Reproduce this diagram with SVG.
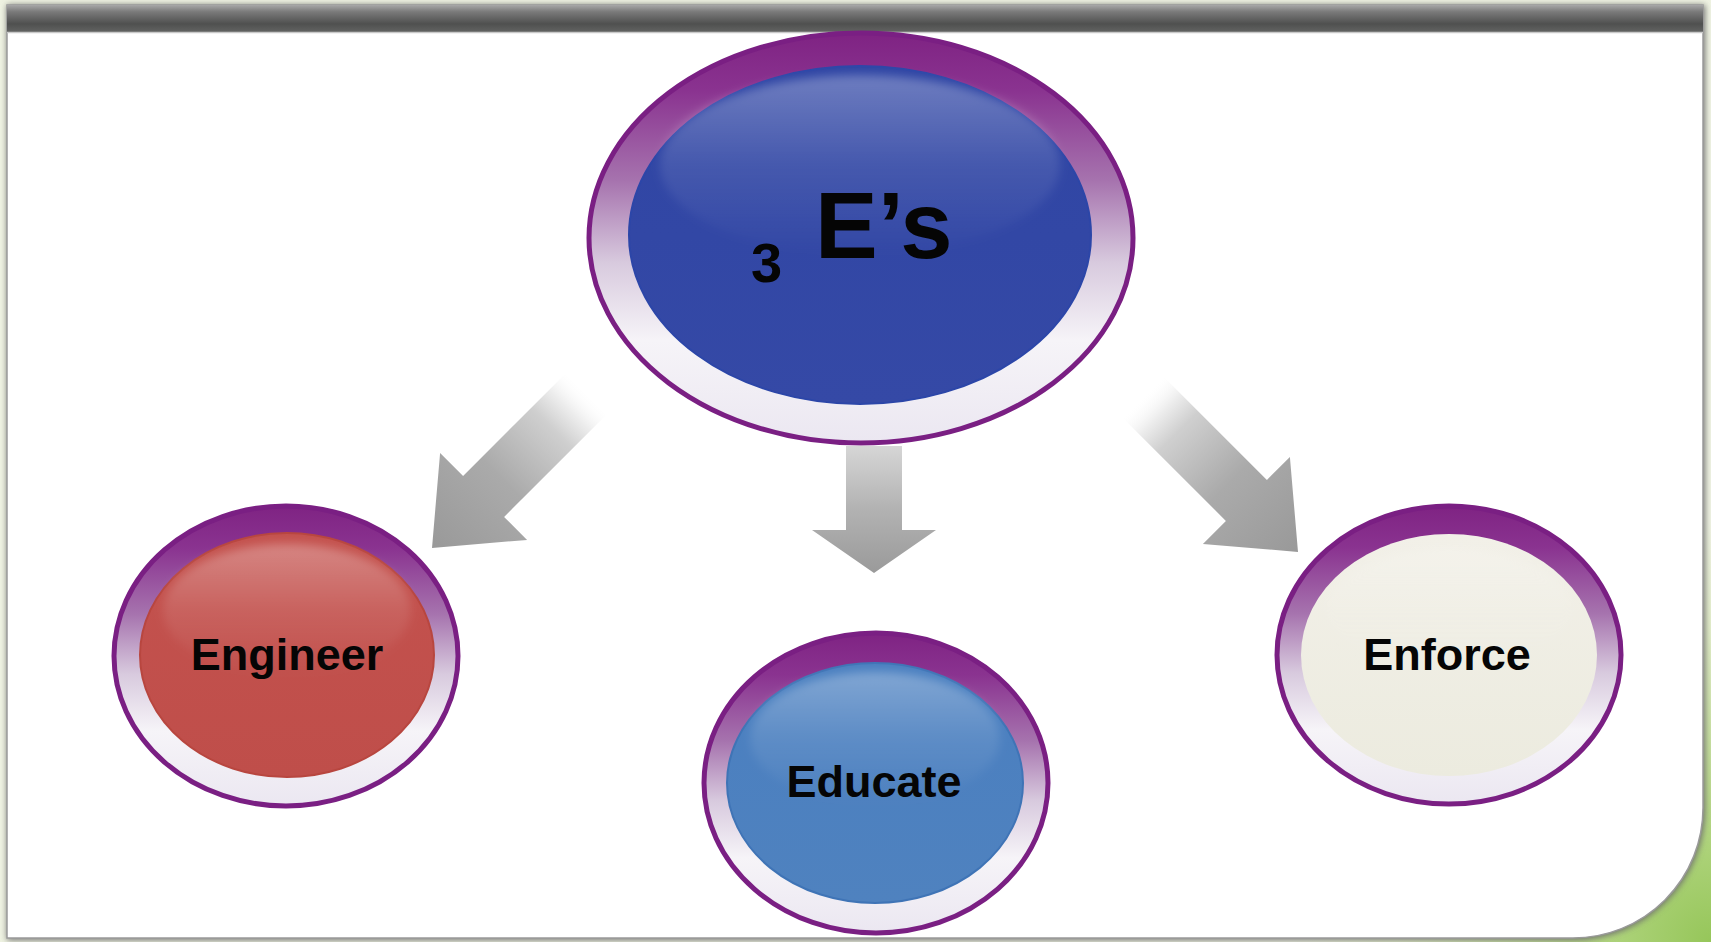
<svg xmlns="http://www.w3.org/2000/svg" width="1711" height="942" viewBox="0 0 1711 942">
  <defs>
    <style>
      .lbl { font-family: "Liberation Sans", Arial, sans-serif; font-weight: bold; fill: #050505; }
      .ring { stroke: #7a1f83; stroke-width: 5; }
      .gloss { fill: url(#glossGrad); filter: url(#soft); }
    </style>
    <radialGradient id="bgGrad" cx="1711" cy="942" r="420" gradientUnits="userSpaceOnUse">
      <stop offset="0" stop-color="#96c65a"/>
      <stop offset="0.35" stop-color="#b9d98a"/>
      <stop offset="0.75" stop-color="#e2edc9"/>
      <stop offset="1" stop-color="#eff3e2"/>
    </radialGradient>
    <linearGradient id="barGrad" x1="0" y1="0" x2="0" y2="1">
      <stop offset="0" stop-color="#a8a8a8"/>
      <stop offset="0.25" stop-color="#7a7a7a"/>
      <stop offset="0.7" stop-color="#4f504f"/>
      <stop offset="1" stop-color="#626362"/>
    </linearGradient>
    <linearGradient id="ringGrad" x1="0" y1="0" x2="0" y2="1">
      <stop offset="0" stop-color="#7f2383"/>
      <stop offset="0.14" stop-color="#8a3390"/>
      <stop offset="0.36" stop-color="#a673ae"/>
      <stop offset="0.56" stop-color="#d8cade"/>
      <stop offset="0.75" stop-color="#f6f4f8"/>
      <stop offset="1" stop-color="#ebe7f1"/>
    </linearGradient>
    <linearGradient id="glossGrad" x1="0" y1="0" x2="0" y2="1">
      <stop offset="0" stop-color="#ffffff" stop-opacity="0.3"/>
      <stop offset="0.5" stop-color="#ffffff" stop-opacity="0.1"/>
      <stop offset="1" stop-color="#ffffff" stop-opacity="0"/>
    </linearGradient>
    <filter id="soft" x="-10%" y="-20%" width="120%" height="140%">
      <feGaussianBlur stdDeviation="5"/>
    </filter>
    <linearGradient id="blueTop" x1="0" y1="0" x2="0" y2="1">
      <stop offset="0" stop-color="#2f45a4"/>
      <stop offset="1" stop-color="#3549a6"/>
    </linearGradient>
    <linearGradient id="redFill" x1="0" y1="0" x2="0" y2="1">
      <stop offset="0" stop-color="#c4524e"/>
      <stop offset="1" stop-color="#bf4e4a"/>
    </linearGradient>
    <linearGradient id="eduFill" x1="0" y1="0" x2="0" y2="1">
      <stop offset="0" stop-color="#4a7fc0"/>
      <stop offset="1" stop-color="#4f82bf"/>
    </linearGradient>
    <linearGradient id="creamFill" x1="0" y1="0" x2="0" y2="1">
      <stop offset="0" stop-color="#f2f0e8"/>
      <stop offset="1" stop-color="#ecebdf"/>
    </linearGradient>
    <linearGradient id="arrowL" gradientUnits="userSpaceOnUse" x1="586" y1="394" x2="432" y2="548">
      <stop offset="0" stop-color="#ffffff" stop-opacity="0.3"/>
      <stop offset="0.1" stop-color="#eeeeee"/>
      <stop offset="0.22" stop-color="#cfcfcf"/>
      <stop offset="0.55" stop-color="#aaaaaa"/>
      <stop offset="1" stop-color="#999999"/>
    </linearGradient>
    <linearGradient id="arrowR" gradientUnits="userSpaceOnUse" x1="1144" y1="398" x2="1298" y2="552">
      <stop offset="0" stop-color="#ffffff" stop-opacity="0.3"/>
      <stop offset="0.1" stop-color="#eeeeee"/>
      <stop offset="0.22" stop-color="#cfcfcf"/>
      <stop offset="0.55" stop-color="#aaaaaa"/>
      <stop offset="1" stop-color="#999999"/>
    </linearGradient>
    <linearGradient id="arrowM" gradientUnits="userSpaceOnUse" x1="0" y1="446" x2="0" y2="573">
      <stop offset="0" stop-color="#d6d6d6"/>
      <stop offset="0.5" stop-color="#b2b2b2"/>
      <stop offset="1" stop-color="#9a9a9a"/>
    </linearGradient>
    <filter id="panelShadow" x="-5%" y="-5%" width="110%" height="110%">
      <feGaussianBlur stdDeviation="3"/>
    </filter>
  </defs>

  <!-- page background -->
  <rect x="0" y="0" width="1711" height="942" fill="url(#bgGrad)"/>

  <!-- panel -->
  <path d="M7,5 H1705 V808 A132,132 0 0 1 1573,940 H7 Z" fill="#6f6f6f" filter="url(#panelShadow)"/>
  <path d="M7,5 H1703 V808 A130,130 0 0 1 1573,938 H7 Z" fill="#ffffff" stroke="#9a9a9a" stroke-width="1.5"/>
  <rect x="7" y="5" width="1696" height="27" fill="url(#barGrad)"/>
  <line x1="7" y1="32.5" x2="1703" y2="32.5" stroke="#c9c9c9" stroke-width="1.5"/>

  <!-- connectors -->
  <g id="connectors">
    <polygon id="arrow-engineer" fill="url(#arrowL)" points="565.6,373.4 606.6,414.4 504.1,516.9 527.1,539.9 432,548 440.1,452.9 463.1,475.9"/>
    <polygon id="arrow-educate" fill="url(#arrowM)" points="846,446 902,446 902,530 936,530 874,573 812,530 846,530"/>
    <polygon id="arrow-enforce" fill="url(#arrowR)" points="1164.4,377.4 1266.9,479.9 1289.9,456.9 1298,552 1202.9,543.9 1225.9,520.9 1123.4,418.4"/>
  </g>

  <!-- top node -->
  <g id="node-3es">
    <ellipse class="ring" cx="861" cy="238" rx="272" ry="205" fill="url(#ringGrad)"/>
    <ellipse cx="860" cy="235" rx="231" ry="169" fill="url(#blueTop)" stroke="#2c46a8" stroke-width="2"/>
    <ellipse class="gloss" cx="860" cy="165" rx="200" ry="90"/>
    <text class="lbl"><tspan x="751" y="282" font-size="56">3</tspan><tspan x="815" y="258" font-size="94">E’s</tspan></text>
  </g>

  <!-- Engineer -->
  <g id="node-engineer">
    <ellipse class="ring" cx="286" cy="656" rx="172" ry="150" fill="url(#ringGrad)"/>
    <ellipse cx="287" cy="655" rx="147" ry="122" fill="url(#redFill)" stroke="#b8463f" stroke-width="2"/>
    <ellipse class="gloss" cx="287" cy="610" rx="124" ry="66"/>
    <text class="lbl" x="287" y="670" font-size="45" text-anchor="middle">Engineer</text>
  </g>

  <!-- Educate -->
  <g id="node-educate">
    <ellipse class="ring" cx="876" cy="783" rx="172" ry="150" fill="url(#ringGrad)"/>
    <ellipse cx="875" cy="783" rx="148" ry="120" fill="url(#eduFill)" stroke="#3f74b6" stroke-width="2"/>
    <ellipse class="gloss" cx="875" cy="738" rx="125" ry="66"/>
    <text class="lbl" x="874" y="797" font-size="45" text-anchor="middle">Educate</text>
  </g>

  <!-- Enforce -->
  <g id="node-enforce">
    <ellipse class="ring" cx="1449" cy="655" rx="172" ry="149" fill="url(#ringGrad)"/>
    <ellipse cx="1449" cy="655" rx="148" ry="121" fill="url(#creamFill)"/>
    <ellipse class="gloss" cx="1449" cy="610" rx="124" ry="62" opacity="0.5"/>
    <text class="lbl" x="1447" y="670" font-size="45" text-anchor="middle">Enforce</text>
  </g>
</svg>
